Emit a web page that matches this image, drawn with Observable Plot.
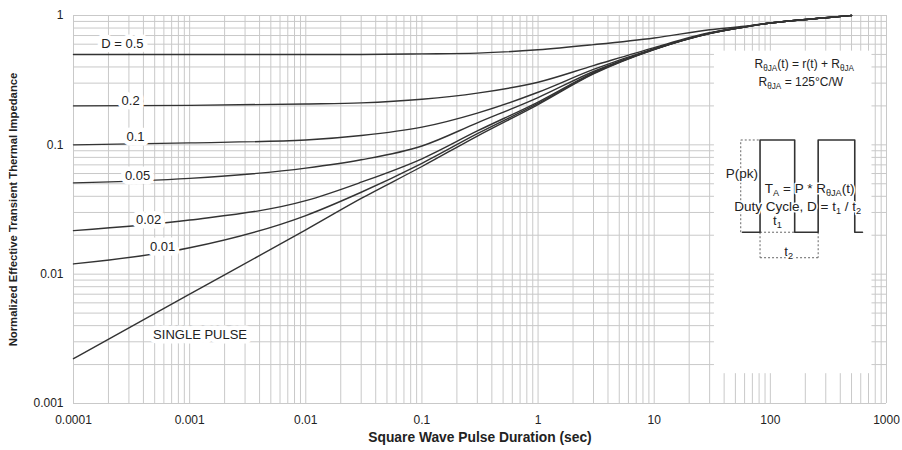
<!DOCTYPE html>
<html>
<head>
<meta charset="utf-8">
<script src="https://cdn.jsdelivr.net/npm/d3@7"></script>
<script src="https://cdn.jsdelivr.net/npm/@observablehq/plot@0.6"></script>
<style>
  html, body { margin: 0; padding: 0; background: #fff; }
</style>
</head>
<body>
<div id="chart"></div>
<script>
// ---- data ----
const pulseDuration = [0.0001, 0.001, 0.01, 0.03, 0.1, 0.3, 1, 3, 10, 30, 60, 100, 300, 500];
const zD05   = [0.5, 0.5, 0.5, 0.5, 0.505, 0.512, 0.543, 0.595, 0.67, 0.775, 0.825, 0.875, 0.96, 1.0];
const zD02   = [0.2, 0.202, 0.207, 0.211, 0.225, 0.251, 0.305, 0.41, 0.565, 0.735, 0.82, 0.875, 0.96, 1.0];
const zD01   = [0.1, 0.1035, 0.109, 0.118, 0.137, 0.176, 0.255, 0.383, 0.555, 0.73, 0.815, 0.875, 0.96, 1.0];
const zD005  = [0.0508, 0.055, 0.066, 0.0766, 0.098, 0.148, 0.232, 0.369, 0.55, 0.728, 0.815, 0.875, 0.96, 1.0];
const zD002  = [0.0217, 0.0262, 0.037, 0.0514, 0.078, 0.128, 0.214, 0.361, 0.548, 0.727, 0.815, 0.875, 0.96, 1.0];
const zD001  = [0.012, 0.016, 0.0284, 0.043, 0.072, 0.122, 0.209, 0.357, 0.547, 0.726, 0.815, 0.875, 0.96, 1.0];
const zSingle = [0.00222, 0.0070, 0.022, 0.0385, 0.068, 0.117, 0.205, 0.354, 0.546, 0.725, 0.815, 0.875, 0.96, 1.0];
const seriesNames = ["D = 0.5", "0.2", "0.1", "0.05", "0.02", "0.01", "SINGLE PULSE"];

const curveLabels = ["D = 0.5", "0.2", "0.1", "0.05", "0.02", "0.01", "SINGLE PULSE"];
const curveLabelT = [0.000264, 0.00031, 0.000342, 0.000356, 0.000443, 0.000585, 0.00123];
const curveLabelZ = [0.607, 0.22, 0.116, 0.0572, 0.0263, 0.0163, 0.00341];

const xTicks = [0.0001, 0.001, 0.01, 0.1, 1, 10, 100, 1000];
const xTickLabels = ["0.0001", "0.001", "0.01", "0.1", "1", "10", "100", "1000"];
const yTicks = [0.001, 0.01, 0.1, 1];
const yTickLabels = ["0.001", "0.01", "0.1", "1"];

const xTitle = "Square Wave Pulse Duration (sec)";
const yTitle = "Normalized Effective Transient Thermal Impedance";

// inset annotation (pulse diagram) in chart coordinates
const noteBox = [{x1: 33, x2: 750, y1: 0.0017, y2: 0.53}];
const pulseT = [57.5, 81.5, 81.5, 162, 162, 258, 258, 533, 533, 621];
const pulseZ = [0.0211, 0.0211, 0.109, 0.109, 0.0211, 0.0211, 0.109, 0.109, 0.0211, 0.0211];
const dimSegments = [
  {a: 81.5, b: 162, za: 0.0211, zb: 0.0211},   // t1
  {a: 81.5, b: 81.5, za: 0.0211, zb: 0.0134},  // t2 left
  {a: 258, b: 258, za: 0.0211, zb: 0.0134},    // t2 right
  {a: 81.5, b: 258, za: 0.0134, zb: 0.0134},   // t2
  {a: 55.6, b: 55.6, za: 0.0211, zb: 0.109},   // P(pk)
  {a: 55.6, b: 81.5, za: 0.109, zb: 0.109}
];
const formulaTexts = ["R_{θJA}(t) = r(t) + R_{θJA}", "R_{θJA} = 125°C/W"];
const formulaT = [196, 183];
const formulaZ = [0.418, 0.305];
const pulseTexts = ["P(pk)", "T_{A} = P * R_{θJA}(t)", "Duty Cycle, D = t_{1} / t_{2}", "t_{1}", "t_{2}"];
const pulseTextT = [56.8, 218, 172, 115, 144];
const pulseTextZ = [0.0597, 0.0457, 0.0333, 0.0257, 0.015];

// ---- build tables ----
const seriesValues = [zD05, zD02, zD01, zD005, zD002, zD001, zSingle];
const rows = [];
seriesValues.forEach((vals, s) => vals.forEach((z, i) => rows.push({series: seriesNames[s], t: pulseDuration[i], z})));
const labelRows = curveLabels.map((text, i) => ({text, t: curveLabelT[i], z: curveLabelZ[i]}));
const pulseRows = pulseT.map((t, i) => ({t, z: pulseZ[i]}));
const formulaRows = formulaTexts.map((text, i) => ({text, t: formulaT[i], z: formulaZ[i]}));
const pulseTextRows = pulseTexts.map((text, i) => ({text, t: pulseTextT[i], z: pulseTextZ[i]}));

const gridX = [];
for (let e = -4; e < 3; e++) for (let k = 1; k <= 9; k++) gridX.push(k * Math.pow(10, e));
gridX.push(1000);
const gridY = [];
for (let e = -3; e < 0; e++) for (let k = 1; k <= 9; k++) gridY.push(k * Math.pow(10, e));
gridY.push(1);

const chart = Plot.plot({
  width: 902,
  height: 450,
  marginLeft: 73,
  marginRight: 16,
  marginTop: 15,
  marginBottom: 47,
  style: {fontFamily: "'Liberation Sans', Arial, sans-serif", fontSize: "12px", background: "#fff", color: "#222"},
  x: {type: "log", domain: [1e-4, 1000], ticks: xTicks, tickFormat: d => xTickLabels[xTicks.indexOf(d)], tickSize: 0, tickPadding: 12, label: null},
  y: {type: "log", domain: [1e-3, 1], ticks: yTicks, tickFormat: d => yTickLabels[yTicks.indexOf(d)], tickSize: 0, tickPadding: 10, label: null},
  marks: [
    Plot.ruleX(gridX, {stroke: "#c9c9c9", strokeWidth: 1}),
    Plot.ruleY(gridY, {stroke: "#c9c9c9", strokeWidth: 1}),
    Plot.rect(noteBox, {x1: "x1", x2: "x2", y1: "y1", y2: "y2", fill: "#fff"}),
    Plot.line(rows, {x: "t", y: "z", z: "series", stroke: "#333", strokeWidth: 1.4, curve: "monotone-x"}),
    Plot.text(labelRows, {x: "t", y: "z", text: "text", fontSize: 13, fill: "#222", stroke: "#fff", strokeWidth: 9}),
    Plot.link(dimSegments, {x1: "a", x2: "b", y1: "za", y2: "zb", stroke: "#666", strokeWidth: 1, strokeDasharray: "2,2"}),
    Plot.line(pulseRows, {x: "t", y: "z", stroke: "#333", strokeWidth: 1.6}),
    Plot.text(formulaRows, {x: "t", y: "z", text: "text", fontSize: 12, fill: "#222"}),
    Plot.text(pulseTextRows, {x: "t", y: "z", text: "text", fontSize: 13.5, fill: "#222", stroke: "#fff", strokeWidth: 3}),
    Plot.text([xTitle], {frameAnchor: "bottom", dy: 38, fontSize: 13.8, fontWeight: "bold", fill: "#222"}),
    Plot.text([yTitle], {frameAnchor: "left", textAnchor: "middle", dx: -60, rotate: -90, fontSize: 11.3, fontWeight: "bold", fill: "#222"})
  ]
});

// render _{...} as subscripts
d3.select(chart).selectAll("text").each(function () {
  const s = this.textContent;
  if (!s.includes("_{")) return;
  const el = d3.select(this);
  el.text(null);
  const parts = s.split(/(_\{[^}]*\})/).filter(p => p.length);
  let shifted = false;
  parts.forEach(p => {
    if (p.startsWith("_{")) {
      el.append("tspan").attr("dy", shifted ? 0 : 3).attr("font-size", "0.68em").text(p.slice(2, -1));
      shifted = true;
    } else {
      el.append("tspan").attr("dy", shifted ? -3 : 0).text(p);
      shifted = false;
    }
  });
});

document.getElementById("chart").appendChild(chart);
</script>
</body>
</html>
